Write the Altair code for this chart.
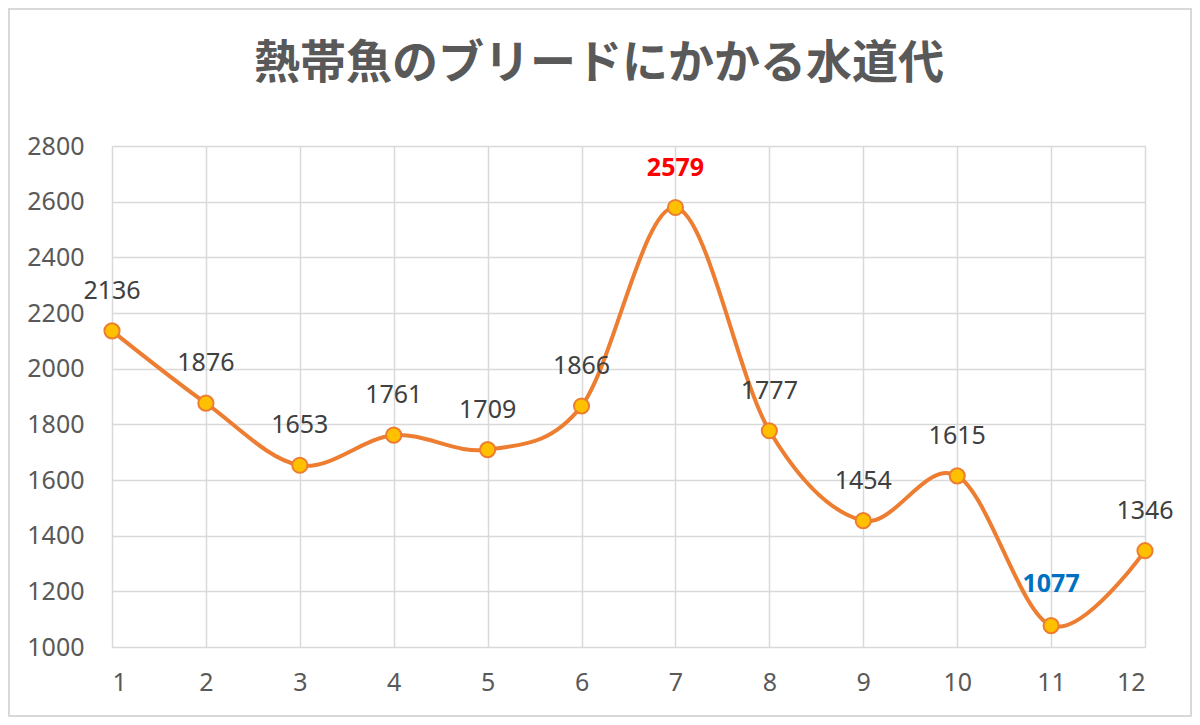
import altair as alt
import pandas as pd

months = list(range(1, 13))
values = [2136, 1876, 1653, 1761, 1709, 1866, 2579, 1777, 1454, 1615, 1077, 1346]
title_text = "熱帯魚のブリードにかかる水道代"
y_ticks = [1000, 1200, 1400, 1600, 1800, 2000, 2200, 2400, 2600, 2800]

vmax, vmin = max(values), min(values)
kinds = ["max" if v == vmax else ("min" if v == vmin else "normal") for v in values]
df = pd.DataFrame({"month": months, "value": values, "kind": kinds})

W, H = 1033, 501
FONT = "Noto Sans"
GREY = "#595959"

x = alt.X("month:Q", scale=alt.Scale(domain=[1, 12], nice=False, zero=False),
          axis=alt.Axis(values=months, title=None, grid=True, gridColor="#D9D9D9", gridWidth=1.5,
                        domain=False, ticks=False, labelFont=FONT, labelFontSize=25,
                        labelColor=GREY, labelPadding=23, format="d"))
y = alt.Y("value:Q", scale=alt.Scale(domain=[1000, 2800], nice=False, zero=False),
          axis=alt.Axis(values=y_ticks, title=None, grid=True, gridColor="#D9D9D9", gridWidth=1.5,
                        domain=False, ticks=False, labelFont=FONT, labelFontSize=25,
                        labelColor=GREY, labelPadding=28, format="d"))

base = alt.Chart(df)
one = alt.Chart(pd.DataFrame({"t": [title_text]}))

border = one.mark_rect(
    fill=None, stroke="#D9D9D9", strokeWidth=2, clip=False
).encode(x=alt.value(-103), x2=alt.value(1079), y=alt.value(-137), y2=alt.value(570))

title = one.mark_text(font="Noto Sans CJK JP", fontSize=46, fontWeight="bold", color=GREY,
                      align="center", baseline="middle").encode(
    x=alt.value(487), y=alt.value(-82), text="t:N")

line = base.mark_line(color="#ED7D31", strokeWidth=4, interpolate="cardinal").encode(x=x, y=y)
points = base.mark_point(filled=True, fill="#FFC000", stroke="#ED7D31", strokeWidth=2,
                         size=230, opacity=1, shape="circle").encode(x=x, y=y)

labels_normal = base.transform_filter(alt.datum.kind == "normal").mark_text(
    font=FONT, fontSize=25, color="#404040", dy=-40, baseline="middle"
).encode(x="month:Q", y="value:Q", text=alt.Text("value:Q", format="d"))
labels_max = base.transform_filter(alt.datum.kind == "max").mark_text(
    font=FONT, fontSize=25, fontWeight="bold", color="#FF0000", dy=-40, baseline="middle"
).encode(x="month:Q", y="value:Q", text=alt.Text("value:Q", format="d"))
labels_min = base.transform_filter(alt.datum.kind == "min").mark_text(
    font=FONT, fontSize=25, fontWeight="bold", color="#0070C0", dy=-42, baseline="middle"
).encode(x="month:Q", y="value:Q", text=alt.Text("value:Q", format="d"))

chart = alt.layer(border, title, line, points, labels_normal, labels_max, labels_min).properties(
    width=W, height=H,
    padding={"left": 104, "top": 138, "right": 47, "bottom": 70},
    autosize=alt.AutoSizeParams(type="none"),
).configure_view(stroke=None).configure(background="white")

chart.save("out.html", embed_options={"renderer": "svg", "actions": False})
